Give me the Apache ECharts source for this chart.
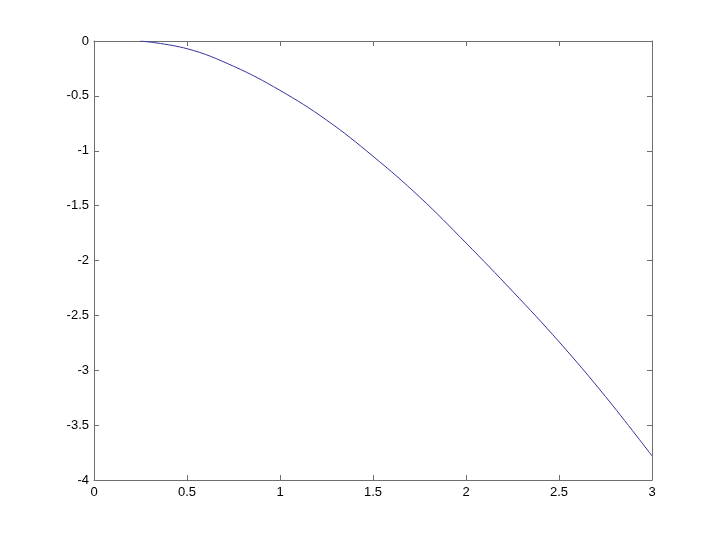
<!DOCTYPE html>
<html>
<head>
<meta charset="utf-8">
<script src="https://cdn.jsdelivr.net/npm/echarts@6/dist/echarts.min.js"></script>
<style>html,body{margin:0;padding:0;background:#fff;}#c{width:720px;height:540px;}</style>
</head>
<body>
<div id="c"></div>
<script>
const xValues = [0.25, 0.5, 0.75, 1.0, 1.25, 1.5, 1.75, 2.0, 2.25, 2.5, 2.75, 3.0];
const yValues = [0, -0.07, -0.23, -0.45, -0.72, -1.05, -1.42, -1.84, -2.28, -2.74, -3.24, -3.78];

const axisColor = '#6e6e6e';
const labelStyle = { color: '#000', fontFamily: 'Liberation Sans, Arial, sans-serif', fontSize: 13 };
const chart = echarts.init(document.getElementById('c'), null, { renderer: 'canvas' });
const points = xValues.map((x, i) => [x, yValues[i]]);
const baseX = {
  type: 'value', min: 0, max: 3, interval: 0.5,
  axisLine: { show: true, onZero: false, lineStyle: { color: axisColor, width: 1 } },
  axisTick: { show: true, inside: true, length: 5, lineStyle: { color: axisColor } },
  splitLine: { show: false }
};
const baseY = {
  type: 'value', min: -4, max: 0, interval: 0.5,
  axisLine: { show: true, onZero: false, lineStyle: { color: axisColor, width: 1 } },
  axisTick: { show: true, inside: true, length: 5, lineStyle: { color: axisColor } },
  splitLine: { show: false }
};
chart.setOption({
  animation: false,
  backgroundColor: '#fff',
  grid: { left: 94, right: 68, top: 41, bottom: 60, containLabel: false },
  xAxis: [
    Object.assign({}, baseX, { position: 'bottom', axisLabel: Object.assign({ margin: 6 }, labelStyle) }),
    Object.assign({}, baseX, { position: 'top', axisLabel: { show: false } })
  ],
  yAxis: [
    Object.assign({}, baseY, { position: 'left', axisLabel: Object.assign({ margin: 5 }, labelStyle) }),
    Object.assign({}, baseY, { position: 'right', axisLabel: { show: false } })
  ],
  series: [{
    type: 'line',
    data: points,
    smooth: 0.4,
    showSymbol: false,
    lineStyle: { color: '#34349e', width: 1 },
    xAxisIndex: 0, yAxisIndex: 0
  }]
});
</script>
</body>
</html>
